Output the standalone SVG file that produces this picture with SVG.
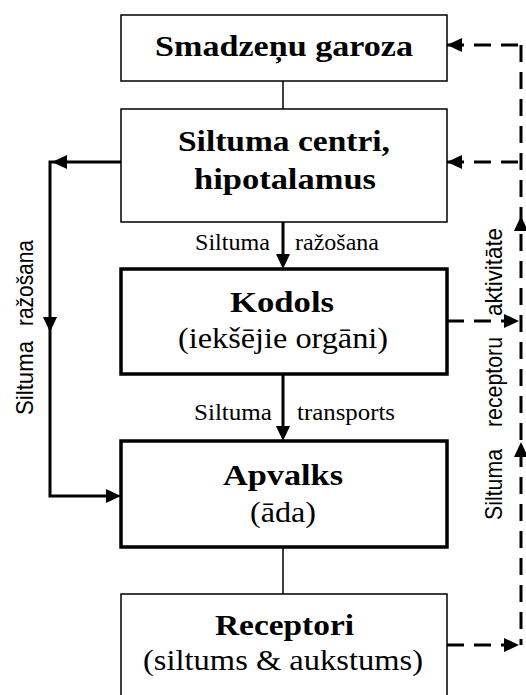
<svg xmlns="http://www.w3.org/2000/svg" xmlns:xlink="http://www.w3.org/1999/xlink" width="526" height="695" viewBox="0 0 526 695">
<style>
.thin{fill:#fff;stroke:#000;stroke-width:1.5}
.thick{fill:#fff;stroke:#000;stroke-width:3.5}
.b{font-family:"Liberation Serif","Times New Roman",serif;font-weight:bold;font-size:30px;fill:#000}
.r{font-family:"Liberation Serif","Times New Roman",serif;font-size:30px;fill:#000}
.l{font-family:"Liberation Serif","Times New Roman",serif;font-size:24px;fill:#000}
.v{font-family:"Liberation Sans",Arial,sans-serif;font-size:24px;fill:#000}
.sl{fill:none;stroke:#000;stroke-width:3}
.tl{fill:none;stroke:#000;stroke-width:1.5}
.dl{fill:none;stroke:#000;stroke-width:3;stroke-dasharray:17 10}
</style>
<defs>
<path id="ah" d="M0,0 L-15,-7 L-15,7 Z" fill="#000"/>
</defs>
<rect width="526" height="695" fill="#fff"/>
<g id="connectors">
<line class="tl" x1="283" y1="81" x2="283" y2="109"/>
<line class="tl" x1="283" y1="547" x2="283" y2="594"/>
<line class="sl" x1="283" y1="222" x2="283" y2="256"/>
<use xlink:href="#ah" transform="translate(283,269) rotate(90)"/>
<line class="sl" x1="283" y1="374" x2="283" y2="428"/>
<use xlink:href="#ah" transform="translate(283,441) rotate(90)"/>
<path class="sl" d="M121,162 H50 V496 H108"/>
<use xlink:href="#ah" transform="translate(52,162) rotate(180)"/>
<use xlink:href="#ah" transform="translate(50,332) rotate(90)"/>
<use xlink:href="#ah" transform="translate(121,496)"/>
<path class="dl" d="M447,45 H521"/>
<path class="dl" d="M521,45 V645"/>
<path class="dl" d="M447,162 H521"/>
<path class="dl" d="M447,321 H505"/>
<path class="dl" d="M447,645 H505"/>
<use xlink:href="#ah" transform="translate(447,45) rotate(180)"/>
<use xlink:href="#ah" transform="translate(447,162) rotate(180)"/>
<use xlink:href="#ah" transform="translate(519,321)"/>
<use xlink:href="#ah" transform="translate(519,645)"/>
<use xlink:href="#ah" transform="translate(521,216) rotate(-90)"/>
<use xlink:href="#ah" transform="translate(521,442) rotate(-90)"/>
<text class="l" x="195" y="250" textLength="75" lengthAdjust="spacingAndGlyphs">Siltuma</text>
<text class="l" x="295" y="250" textLength="84" lengthAdjust="spacingAndGlyphs">ražošana</text>
<text class="l" x="194" y="420" textLength="78" lengthAdjust="spacingAndGlyphs">Siltuma</text>
<text class="l" x="297" y="420" textLength="98" lengthAdjust="spacingAndGlyphs">transports</text>
<g transform="translate(33,0) rotate(-90)">
<text class="v" x="-415" y="0" textLength="74" lengthAdjust="spacingAndGlyphs">Siltuma</text>
<text class="v" x="-326" y="0" textLength="86" lengthAdjust="spacingAndGlyphs">ražošana</text>
</g>
<g transform="translate(502,0) rotate(-90)">
<text class="v" x="-520" y="0" textLength="71" lengthAdjust="spacingAndGlyphs">Siltuma</text>
<text class="v" x="-427" y="0" textLength="90" lengthAdjust="spacingAndGlyphs">receptoru</text>
<text class="v" x="-316" y="0" textLength="88" lengthAdjust="spacingAndGlyphs">aktivitāte</text>
</g>
</g>
<g id="garoza">
<rect class="thin" x="121" y="15" width="326" height="66"/>
<text class="b" x="155" y="56" textLength="258" lengthAdjust="spacingAndGlyphs">Smadzeņu garoza</text>
</g>
<g id="hipotalamus">
<rect class="thin" x="121" y="109" width="326" height="113"/>
<text class="b" x="178" y="151" textLength="212" lengthAdjust="spacingAndGlyphs">Siltuma centri,</text>
<text class="b" x="194" y="189" textLength="182" lengthAdjust="spacingAndGlyphs">hipotalamus</text>
</g>
<g id="kodols">
<rect class="thick" x="121" y="269" width="326" height="105"/>
<text class="b" x="230" y="312" textLength="104" lengthAdjust="spacingAndGlyphs">Kodols</text>
<text class="r" x="178" y="348" textLength="210" lengthAdjust="spacingAndGlyphs">(iekšējie orgāni)</text>
</g>
<g id="apvalks">
<rect class="thick" x="121" y="441" width="326" height="106"/>
<text class="b" x="223" y="485" textLength="120" lengthAdjust="spacingAndGlyphs">Apvalks</text>
<text class="r" x="250" y="522" textLength="66" lengthAdjust="spacingAndGlyphs">(āda)</text>
</g>
<g id="receptori">
<rect class="thin" x="121" y="594" width="326" height="102"/>
<text class="b" x="215" y="635" textLength="139" lengthAdjust="spacingAndGlyphs">Receptori</text>
<text class="r" x="143" y="670" textLength="280" lengthAdjust="spacingAndGlyphs">(siltums &amp; aukstums)</text>
</g>
</svg>
